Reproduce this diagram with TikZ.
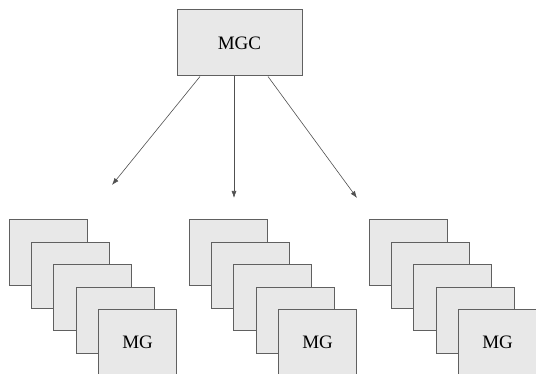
\documentclass[tikz,border=0pt]{standalone}
\usepackage{fontspec}
\setmainfont{Liberation Serif}
\usepackage{tikz}
\usetikzlibrary{calc, positioning, arrows.meta}
\usepackage{xcolor}
\definecolor{boxfill}{HTML}{E8E8E8}
\definecolor{boxline}{HTML}{606060}
\definecolor{arrline}{HTML}{505050}

\begin{document}
\begin{tikzpicture}[
  x=1pt, y=-1pt,
  ctrl/.style={draw=boxline, fill=boxfill, line width=1pt, minimum width=125pt, minimum height=66pt, inner sep=0pt},
  gw/.style={draw=boxline, fill=boxfill, line width=1pt, minimum width=78pt, minimum height=66pt, inner sep=0pt},
  arr/.style={draw=arrline, line width=0.6pt, -{Latex[length=7pt,width=5pt]}},
  lab/.style={font=\fontsize{19}{22}\selectfont}
]
\useasboundingbox (0,0) rectangle (536,374);
\clip (0,0) rectangle (536,374);

\def\dx{180}
\def\dk{22.4}

\node[ctrl] (mgc) at (239.5,43) {};
\node[lab] at (mgc.center) {MGC};

% stacks of gateways
\foreach \s in {0,1,2} {
  \foreach \k in {0,1,2,3,4} {
    \node[gw] (G\s\k) at ({48+\s*\dx+\k*\dk},{253+\k*\dk}) {};
  }
  \node[lab] at (G\s4.center) {MG};
}

\coordinate (a1) at (112,185);
\coordinate (a2) at (234,198);
\coordinate (a3) at (357,198);

\draw[arr] ($(mgc.south)+(-39.5,0)$) -- (a1);
\draw[arr] ($(mgc.south)+(-5.5,0)$) -- (a2);
\draw[arr] ($(mgc.south)+(28.5,0)$) -- (a3);

\end{tikzpicture}
\end{document}
